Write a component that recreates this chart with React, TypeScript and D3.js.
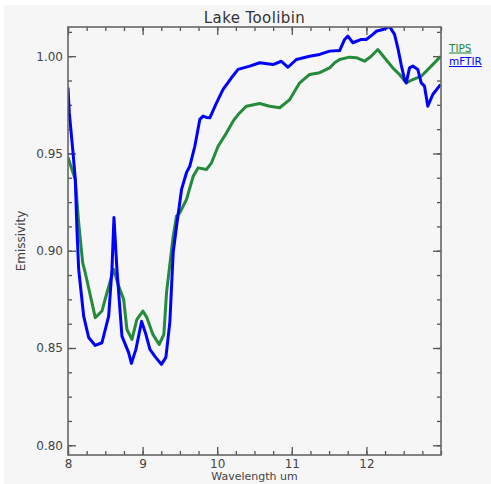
import React, { useEffect, useRef } from "react";
import * as d3 from "d3";

// mFTIR emissivity spectrum (blue)
const mftirWavelength = [
  8.0, 8.017, 8.067, 8.098, 8.12, 8.143, 8.21, 8.277, 8.365, 8.455, 8.545, 8.589, 8.616, 8.656,
  8.723, 8.813, 8.85, 8.91, 8.987, 9.044, 9.098, 9.165, 9.252, 9.312, 9.365, 9.41, 9.455, 9.522,
  9.589, 9.633, 9.7, 9.767, 9.811, 9.857, 9.901, 9.991, 10.079, 10.191, 10.28, 10.436, 10.57,
  10.748, 10.86, 10.949, 11.061, 11.239, 11.373, 11.507, 11.641, 11.708, 11.752, 11.819, 11.931,
  11.998, 12.087, 12.132, 12.22, 12.31, 12.377, 12.421, 12.466, 12.511, 12.534, 12.578, 12.622,
  12.689, 12.735, 12.779, 12.823, 12.89, 12.993,
];
const mftirEmissivity = [
  0.9839, 0.9711, 0.9505, 0.9366, 0.9109, 0.8905, 0.8664, 0.8554, 0.8513, 0.8527, 0.8664, 0.8904,
  0.9171, 0.8904, 0.8561, 0.8476, 0.8421, 0.8493, 0.8637, 0.857, 0.8493, 0.8457, 0.8416, 0.8452,
  0.8632, 0.8991, 0.9126, 0.9315, 0.9402, 0.9435, 0.9537, 0.9675, 0.9692, 0.9685, 0.9683, 0.976,
  0.9829, 0.9889, 0.9932, 0.9949, 0.9966, 0.9957, 0.9974, 0.9943, 0.9983, 1.0, 1.0009, 1.0026,
  1.0029, 1.0086, 1.0103, 1.0069, 1.0086, 1.0086, 1.0112, 1.0128, 1.0137, 1.0153, 1.0112, 1.0043,
  0.9957, 0.988, 0.9863, 0.994, 0.9949, 0.9932, 0.9863, 0.9846, 0.9743, 0.9803, 0.9854,
];

// TIPS emissivity spectrum (green)
const tipsWavelength = [
  8.0, 8.098, 8.143, 8.197, 8.231, 8.321, 8.365, 8.455, 8.522, 8.612, 8.679, 8.746, 8.79, 8.857,
  8.924, 9.004, 9.058, 9.138, 9.222, 9.285, 9.321, 9.41, 9.455, 9.499, 9.589, 9.678, 9.745, 9.857,
  9.924, 10.012, 10.125, 10.213, 10.28, 10.392, 10.57, 10.704, 10.838, 10.972, 11.106, 11.239,
  11.373, 11.507, 11.574, 11.641, 11.775, 11.864, 11.975, 12.065, 12.153, 12.243, 12.354, 12.444,
  12.534, 12.622, 12.735, 12.846, 12.993,
];
const tipsEmissivity = [
  0.9479, 0.9366, 0.9144, 0.8938, 0.8887, 0.8733, 0.8656, 0.869, 0.8784, 0.8904, 0.8818, 0.875,
  0.8595, 0.8544, 0.8647, 0.869, 0.8656, 0.857, 0.8518, 0.857, 0.8786, 0.9075, 0.9178, 0.9195,
  0.9264, 0.9383, 0.9426, 0.9418, 0.9452, 0.9537, 0.9606, 0.9666, 0.97, 0.9743, 0.9757, 0.9743,
  0.9735, 0.9777, 0.9863, 0.9906, 0.9915, 0.994, 0.9966, 0.9983, 0.9995, 0.9992, 0.9974, 1.0,
  1.0034, 0.9992, 0.994, 0.9906, 0.9863, 0.988, 0.9897, 0.994, 0.9998,
];

const xTicks = [8, 9, 10, 11, 12];
const yTicks = [0.8, 0.85, 0.9, 0.95, 1.0];

const FONT = "DejaVu Sans, Verdana, sans-serif";

export default function App() {
  const ref = useRef<SVGSVGElement>(null);

  const width = 491;
  const height = 484;
  const left = 68, right = 441, top = 27, bottom = 455;

  useEffect(() => {
    const svg = d3.select(ref.current);
    svg.selectAll("*").remove();

    const x = d3.scaleLinear().domain([8, 13]).range([left, right]);
    const y = d3.scaleLinear().domain([0.795, 1.015]).range([bottom, top]);

    svg.append("rect").attr("x", 4).attr("y", 5).attr("width", width - 4).attr("height", height - 5)
      .attr("fill", "#f6f6f6");

    const xMinor = d3.range(8, 13.001, 0.25);
    const yMinor = d3.range(0.8, 1.015, 0.0125);

    const styleAxis = (g: any) => {
      g.select(".domain").remove();
      g.selectAll("line").attr("stroke", "#555").attr("stroke-width", 1.3);
      g.selectAll("text").attr("fill", "#444").attr("font-family", FONT).attr("font-size", 12);
    };

    // bottom
    svg.append("g").attr("transform", `translate(0,${bottom})`)
      .call(d3.axisBottom(x).tickValues(xMinor).tickSize(-4).tickFormat(() => ""))
      .call(styleAxis);
    svg.append("g").attr("transform", `translate(0,${bottom})`)
      .call(d3.axisBottom(x).tickValues(xTicks).tickSize(-8).tickPadding(4).tickFormat(d3.format("d")))
      .call(styleAxis);
    // top
    svg.append("g").attr("transform", `translate(0,${top})`)
      .call(d3.axisTop(x).tickValues(xMinor).tickSize(-4).tickFormat(() => ""))
      .call(styleAxis);
    svg.append("g").attr("transform", `translate(0,${top})`)
      .call(d3.axisTop(x).tickValues(xTicks).tickSize(-8).tickFormat(() => ""))
      .call(styleAxis);
    // left
    svg.append("g").attr("transform", `translate(${left},0)`)
      .call(d3.axisLeft(y).tickValues(yMinor).tickSize(-4).tickFormat(() => ""))
      .call(styleAxis);
    svg.append("g").attr("transform", `translate(${left},0)`)
      .call(d3.axisLeft(y).tickValues(yTicks).tickSize(-8).tickPadding(5).tickFormat(d3.format(".2f")))
      .call(styleAxis);
    // right
    svg.append("g").attr("transform", `translate(${right},0)`)
      .call(d3.axisRight(y).tickValues(yMinor).tickSize(-4).tickFormat(() => ""))
      .call(styleAxis);
    svg.append("g").attr("transform", `translate(${right},0)`)
      .call(d3.axisRight(y).tickValues(yTicks).tickSize(-8).tickFormat(() => ""))
      .call(styleAxis);

    svg.append("defs").append("clipPath").attr("id", "plot-clip")
      .append("rect").attr("x", left).attr("y", top).attr("width", right - left).attr("height", bottom - top);

    const line = d3.line<[number, number]>().x(d => x(d[0])).y(d => y(d[1]));

    const tips = tipsWavelength.map((w, i) => [w, tipsEmissivity[i]] as [number, number]);
    const mftir = mftirWavelength.map((w, i) => [w, mftirEmissivity[i]] as [number, number]);

    svg.append("path").attr("d", line(tips)).attr("fill", "none").attr("stroke", "#238b3a")
      .attr("stroke-width", 3).attr("stroke-linejoin", "round").attr("clip-path", "url(#plot-clip)");
    svg.append("path").attr("d", line(mftir)).attr("fill", "none").attr("stroke", "#0000ff")
      .attr("stroke-width", 3).attr("stroke-linejoin", "round").attr("clip-path", "url(#plot-clip)");

    // frame
    svg.append("rect").attr("x", left).attr("y", top).attr("width", right - left).attr("height", bottom - top)
      .attr("fill", "none").attr("stroke", "#666").attr("stroke-width", 1.6);

    // title and labels
    svg.append("text").attr("x", (left + right) / 2).attr("y", 22.5).attr("text-anchor", "middle")
      .attr("font-family", FONT).attr("font-size", 15).attr("letter-spacing", 0.4)
      .attr("fill", "#333").text("Lake Toolibin");

    svg.append("text").attr("x", (left + right) / 2).attr("y", 479.5).attr("text-anchor", "middle")
      .attr("font-family", FONT).attr("font-size", 11).attr("fill", "#444").text("Wavelength um");

    svg.append("text").attr("transform", `translate(24.5,${(top + bottom) / 2}) rotate(-90)`)
      .attr("text-anchor", "middle").attr("font-family", FONT).attr("font-size", 12)
      .attr("fill", "#444").text("Emissivity");

    // legend
    svg.append("text").attr("x", 449).attr("y", 51.5).attr("font-family", FONT).attr("font-size", 10.5)
      .attr("fill", "#238b3a").attr("text-decoration", "underline").text("TIPS");
    svg.append("text").attr("x", 449).attr("y", 65).attr("font-family", FONT).attr("font-size", 10.5)
      .attr("fill", "#0000ff").attr("text-decoration", "underline").text("mFTIR");
  }, []);

  return (
    <svg ref={ref} width={width} height={height}
      style={{ position: "absolute", left: 0, top: 0, background: "#fff" }} />
  );
}
